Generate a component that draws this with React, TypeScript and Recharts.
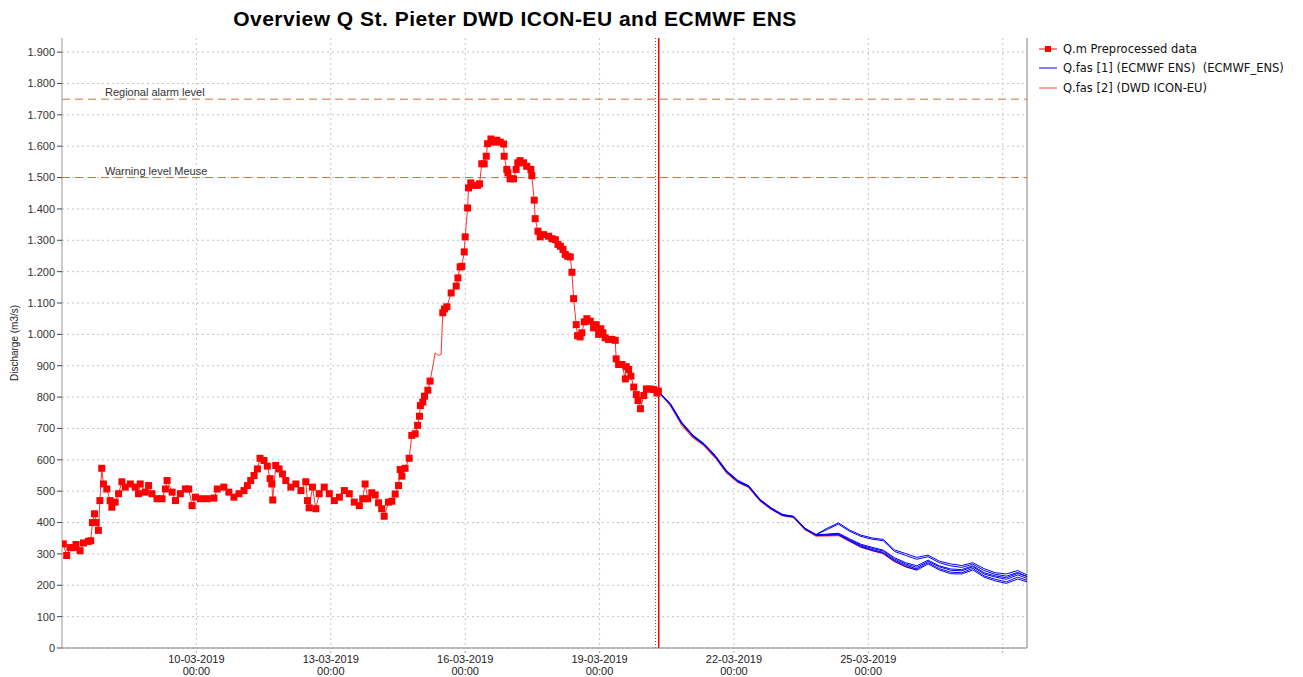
import {
  LineChart, Line, XAxis, YAxis, CartesianGrid, ReferenceLine, Legend,
} from "recharts";

// observed discharge (hours since 07-03-2019 00:00, m3/s)
const obsHours = [
  0.7, 2.5, 4.3, 6.1, 7.5, 9.7, 11.5, 14.2, 15.4, 16.3, 17.4, 18.3, 19.5, 20.3, 21.3, 22.2,
  24, 25.8, 26.7, 28.5, 30.3, 32.1, 33.9, 36.6, 39.2, 41, 41.9, 44.6, 46.4, 48.2, 50.9, 53.6,
  55.4, 56.3, 59, 60.8, 63.4, 66.1, 67.9, 69.7, 71.5, 74.2, 77.8, 81.4, 83.2, 86.7, 89.4, 92.1,
  94.8, 97.5, 99.3, 101.1, 102.9, 104.7, 106.1, 108.2, 110, 111.5, 112.4, 112.9, 114.5, 116.3,
  118.1, 119.9, 122.6, 125.3, 128, 130.6, 131.5, 132.4, 134.2, 136, 137.8, 140.5, 143.2, 145.9,
  148.6, 151.3, 153.9, 156.6, 159.3, 161.1, 162.4, 163.8, 166, 167.8, 169.6, 171.3, 172.6, 174.9,
  176.7, 178.5, 180.3, 181.2, 182.1, 183.8, 186, 187.4, 189.2, 190.5, 191.5, 192, 193.3, 194.2,
  196, 197.2, 199, 199.9, 201.7, 203.1, 204, 204.9, 206.2, 208.5, 211.2, 212.1, 213.3, 214.2,
  215.5, 216, 217.3, 217.8, 219, 220.5, 222.6, 223.7, 224.9, 226.2, 227.3, 228, 229.8, 231.2,
  233, 234.8, 236.6, 236.9, 238.3, 238.9, 240.1, 241.9, 243.3, 244.2, 245.4, 247.3, 249, 251.2,
  251.7, 253, 253.5, 255, 256.2, 258, 260.7, 262.5, 264.3, 265.7, 267, 268.4, 269.6, 270.9,
  272.3, 273.2, 274.1, 275.5, 276.2, 277.6, 278.5, 279.8, 281.2, 283, 284.8, 286.2, 287.5, 288.7,
  289.8, 291, 292.8, 294.6, 296.4, 296.9, 298.2, 300, 301.8, 302.3, 303.6, 304.8, 306.3, 307.7,
  308.6, 309.9, 311.7, 313.1, 315.2, 317, 318.8, 319.5,
];
const obsValues = [
  332, 295, 320, 320, 330, 310, 335, 340, 342, 400, 428, 400, 375, 470, 573, 523,
  507, 470, 449, 465, 492, 530, 513, 523, 513, 492, 523, 497, 518, 492, 476, 476,
  507, 534, 497, 470, 492, 507, 507, 454, 481, 476, 476, 478, 507, 513, 497, 481,
  492, 502, 518, 534, 550, 571, 605, 598, 580, 540, 523, 472, 582, 571,
  555, 534, 513, 523, 502, 530, 470, 447, 513, 444, 492, 513, 492, 470,
  481, 502, 492, 465, 454, 476, 523, 476, 495, 488, 463, 444, 420, 465,
  468, 491, 518, 569, 548, 573, 605, 678, 683, 710, 739, 773, 784, 803,
  822, 851, 909, 941, 933, 936, 1069, 1081, 1088, 1132, 1154, 1180, 1215, 1217,
  1263, 1311, 1403, 1467, 1483, 1475, 1475, 1480, 1544, 1544, 1568, 1608, 1623, 1613,
  1619, 1613, 1607, 1568, 1526, 1515, 1496, 1496, 1526, 1547, 1554, 1547, 1536, 1526,
  1506, 1428, 1369, 1329, 1311, 1318, 1313, 1305, 1302, 1287, 1281, 1271, 1255, 1249,
  1247, 1198, 1114, 1031, 996, 992, 1005, 1040, 1050, 1042, 1021, 1031, 1000, 1018,
  1005, 989, 984, 984, 981, 922, 904, 904, 858, 897, 888, 867, 832, 808,
  789, 763, 805, 826, 826, 824, 813, 819,
];
const lineOnlyHours = [199, 199.9, 201.7, 203.1];

// forecasts
const fcHours = [
  320, 326, 332, 338, 344, 350, 356, 362, 368, 374, 380, 386, 392, 398, 404, 410, 416,
  422, 428, 434, 440, 446, 452, 458, 464, 470, 476, 482, 488, 494, 500, 506, 512, 517,
];
const ensMember1 = [815, 779, 720, 679, 652, 614, 566, 535, 517, 474, 447, 426, 420, 382, 362, 382, 399,
  376, 360, 351, 346, 313, 301, 289, 296, 277, 268, 263, 272, 253, 240, 236, 247, 233];
const ensMember2 = [815, 777, 717, 676, 649, 611, 563, 532, 515, 472, 445, 424, 419, 381, 361, 378, 395,
  372, 356, 347, 342, 308, 295, 283, 291, 272, 262, 257, 267, 247, 235, 229, 241, 228];
const ensMember3 = [815, 776, 716, 675, 648, 610, 562, 531, 514, 471, 444, 423, 418, 380, 360, 361, 362,
  343, 325, 314, 305, 280, 264, 252, 272, 253, 242, 240, 254, 230, 219, 211, 226, 216];
const ensMember4 = [815, 776, 716, 675, 648, 610, 562, 531, 514, 471, 444, 423, 418, 380, 360, 360, 361,
  341, 322, 311, 302, 276, 259, 248, 268, 249, 237, 236, 249, 226, 214, 206, 220, 211];
const ensMember5 = [815, 776, 717, 676, 648, 610, 562, 531, 514, 471, 444, 423, 418, 380, 360, 362, 364,
  345, 328, 318, 309, 284, 268, 257, 276, 259, 248, 246, 259, 236, 226, 219, 233, 222];
const ensMember6 = [815, 776, 717, 676, 649, 611, 563, 532, 515, 472, 445, 424, 419, 381, 361, 363, 366,
  348, 331, 321, 312, 288, 272, 262, 280, 262, 252, 250, 262, 240, 230, 224, 238, 228];
const ensMembers = [ensMember1, ensMember2, ensMember3, ensMember4, ensMember5, ensMember6];
const dwdValues = [815, 773, 712, 671, 645, 607, 559, 529, 512, 469, 442, 422, 416, 378, 357, 358, 359,
  340, 322, 311, 301, 276, 260, 250];

const yTicks = [0, 100, 200, 300, 400, 500, 600, 700, 800, 900, 1000, 1100, 1200, 1300, 1400, 1500, 1600, 1700, 1800, 1900];
const xTicks = [72, 144, 216, 288, 360, 432, 504];
const xTickLabels = ["10-03-2019", "13-03-2019", "16-03-2019", "19-03-2019", "22-03-2019", "25-03-2019", ""];
const alarmLevels = [
  { value: 1750, label: "Regional alarm level" },
  { value: 1500, label: "Warning level Meuse" },
];
const analysisTime = 318;
const forecastTime = 319.7;

const legendItems = [
  { label: "Q.m Preprocessed data", color: "#ff0000", marker: true },
  { label: "Q.fas [1] (ECMWF ENS)  (ECMWF_ENS)", color: "#0000ff", marker: false },
  { label: "Q.fas [2] (DWD ICON-EU)", color: "#ff4a3a", marker: false },
];

const obsData = obsHours.map((h, i) => ({ h, v: obsValues[i], noMarker: lineOnlyHours.includes(h) }));
const ensData = ensMembers.map(m => fcHours.map((h, i) => ({ h, v: m[i] })));
const dwdData = dwdValues.map((v, i) => ({ h: fcHours[i], v }));

const FONT = "'Liberation Sans', Arial, sans-serif";

const fmtY = (v: number) => v >= 1000 ? `${Math.floor(v / 1000)}.${String(v % 1000).padStart(3, "0")}` : String(v);

const ObsDot = (props: any) => {
  const { cx, cy, payload, index } = props;
  if (cx == null || cy == null || payload.noMarker) return <g key={index} />;
  return <rect key={index} x={cx - 3.5} y={cy - 3.5} width={7} height={7} fill="#ff0000" />;
};

const XTick = ({ x, y, payload }: any) => {
  const label = xTickLabels[xTicks.indexOf(payload.value)];
  if (!label) return <g />;
  return (
    <text x={x} y={y} textAnchor="middle" fontSize={11} fill="#222" fontFamily={FONT}>
      <tspan x={x} dy={8}>{label}</tspan>
      <tspan x={x} dy={12}>00:00</tspan>
    </text>
  );
};

const levelLabel = (text: string) => (props: any) => {
  const vb = props.viewBox;
  return <text x={vb.x + 43} y={vb.y - 3} fontSize={11} fill="#333" fontFamily={FONT}>{text}</text>;
};

const LegendBox = () => (
  <div style={{ fontFamily: "'DejaVu Sans', sans-serif", fontSize: 11.5, color: "#111" }}>
    {legendItems.map(it => (
      <div key={it.label} style={{ display: "flex", alignItems: "center", height: 19.5, whiteSpace: "pre" }}>
        <svg width={22} height={10} style={{ marginRight: 3 }}>
          <line x1={1} y1={5} x2={19} y2={5} stroke={it.color} strokeWidth={1} />
          {it.marker && <rect x={7} y={2} width={6} height={6} fill={it.color} />}
        </svg>
        {it.label}
      </div>
    ))}
  </div>
);

export default function App() {
  return (
    <div style={{ position: "absolute", left: 0, top: 0, width: 1303, height: 677, background: "#fff" }}>
      <div style={{
        position: "absolute", left: 0, top: 7, width: 1030, textAlign: "center",
        fontFamily: FONT, fontWeight: "bold", fontSize: 21, letterSpacing: 0.5, color: "#000",
      }}>
        Overview Q St. Pieter DWD ICON-EU and ECMWF ENS
      </div>
      <LineChart width={1303} height={677} margin={{ top: 38, right: 276, bottom: 0, left: 0 }}>
        <CartesianGrid strokeDasharray="2 3" stroke="#c4c4c4" horizontalValues={yTicks} verticalValues={xTicks} />
        <XAxis
          dataKey="h" type="number" domain={[0, 517]} ticks={xTicks} allowDataOverflow
          height={29} tick={<XTick />} tickSize={5} tickMargin={2}
          stroke="#808080" tickLine={{ stroke: "#aaa", strokeDasharray: "2 2" }}
        />
        <YAxis
          type="number" domain={[0, 1945]} ticks={yTicks} allowDataOverflow width={62}
          tickFormatter={fmtY} tickSize={5} tickMargin={2} stroke="#999"
          tick={{ fontSize: 11, fill: "#333", fontFamily: FONT }}
          tickLine={{ stroke: "#444" }}
          label={{
            value: "Discharge (m3/s)", angle: -90, position: "insideLeft", offset: 14,
            style: { textAnchor: "middle", fontSize: 10, fill: "#222", fontFamily: FONT },
          }}
        />
        <ReferenceLine x={517} stroke="#808080" />
        {alarmLevels.map(l => (
          <ReferenceLine
            key={l.value} y={l.value} stroke="#d0703a" strokeDasharray="8 5" strokeWidth={1}
            label={levelLabel(l.label)}
          />
        ))}
        <ReferenceLine x={analysisTime} stroke="#555" strokeDasharray="1 2" />
        <ReferenceLine x={forecastTime} stroke="#ff0000" strokeWidth={1.5} />
        <Line
          data={obsData} dataKey="v" stroke="#ff3030" strokeWidth={1} dot={<ObsDot />}
          isAnimationActive={false} legendType="none"
        />
        <Line
          data={dwdData} dataKey="v" stroke="#ff3a2a" strokeWidth={1.5} dot={false}
          isAnimationActive={false} legendType="none"
        />
        {ensData.map((d, i) => (
          <Line
            key={i} data={d} dataKey="v" stroke="#0000ff" strokeWidth={1} dot={false}
            isAnimationActive={false} legendType="none"
          />
        ))}
        <Legend
          layout="vertical" align="center" verticalAlign="middle" content={<LegendBox />}
          wrapperStyle={{ left: 1038, top: 39, width: 265, height: 60 }}
        />
      </LineChart>
    </div>
  );
}
